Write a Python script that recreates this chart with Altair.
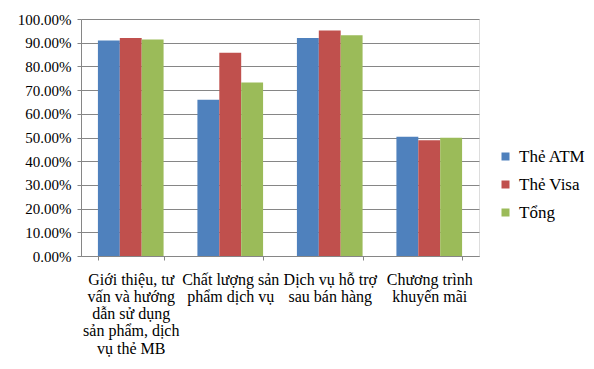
import json
import altair as alt
import pandas as pd

categories = [
    "Giới thiệu, tư vấn và hướng dẫn sử dụng sản phẩm, dịch vụ thẻ MB",
    "Chất lượng sản phẩm dịch vụ",
    "Dịch vụ hỗ trợ sau bán hàng",
    "Chương trình khuyến mãi",
]
label_lines = [
    ["Giới thiệu, tư", "vấn và hướng", "dẫn sử dụng", "sản phẩm, dịch", "vụ thẻ MB"],
    ["Chất lượng sản", "phẩm dịch vụ"],
    ["Dịch vụ hỗ trợ", "sau bán hàng"],
    ["Chương trình", "khuyến mãi"],
]
series = ["Thẻ ATM", "Thẻ Visa", "Tổng"]
atm = [0.909, 0.659, 0.920, 0.503]
visa = [0.920, 0.858, 0.951, 0.488]
tong = [0.914, 0.732, 0.931, 0.499]
y_ticks = [0.0, 0.1, 0.2, 0.3, 0.4, 0.5, 0.6, 0.7, 0.8, 0.9, 1.0]
colors = ["#4F81BD", "#C0504D", "#9BBB59"]

rows = []
for i, c in enumerate(categories):
    for s, vals in zip(series, [atm, visa, tong]):
        rows.append({"cat": c, "series": s, "value": vals[i]})
df = pd.DataFrame(rows)

lab_map = {c: l for c, l in zip(categories, label_lines)}
label_expr = json.dumps(lab_map, ensure_ascii=False) + "[datum.value]"

FONT = "Liberation Serif"

chart = alt.Chart(df).mark_bar().encode(
    x=alt.X("cat:N", sort=categories, title=None,
            scale=alt.Scale(paddingInner=0.34, paddingOuter=0.17),
            axis=alt.Axis(labelExpr=label_expr, labelAngle=0, tickBand="extent",
                          labelFontSize=16, labelColor="#000000",
                          labelPadding=11, labelLineHeight=17.3, tickSize=4,
                          tickColor="#868686", domainColor="#868686",
                          labelBaseline="top", labelOverlap=False)),
    xOffset=alt.XOffset("series:N", sort=series),
    y=alt.Y("value:Q", title=None,
            scale=alt.Scale(domain=[0, 1]),
            axis=alt.Axis(format=".2%", values=y_ticks, labelOverlap=False,
                          labelFontSize=15, labelColor="#000000",
                          labelPadding=6, tickSize=4, tickColor="#868686",
                          domainColor="#868686", gridColor="#868686",
                          gridOpacity=1, gridWidth=1)),
    color=alt.Color("series:N", sort=series,
                    scale=alt.Scale(domain=series, range=colors),
                    legend=alt.Legend(title=None, orient="none", legendX=416, legendY=129,
                                      symbolType="square", symbolSize=64,
                                      symbolStrokeWidth=0,
                                      labelFontSize=17, labelColor="#000000",
                                      labelOffset=5, rowPadding=10)),
).properties(
    width=398,
    height=237,
    autosize=alt.AutoSizeParams(type="none"),
    padding={"left": 73, "top": 11, "right": 107, "bottom": 105},
).configure_view(stroke=None).configure(background="#ffffff", font=FONT).configure_axis(
    labelFont=FONT
).configure_legend(labelFont=FONT)

chart.save("out.html", embed_options={"renderer": "svg", "actions": False})
